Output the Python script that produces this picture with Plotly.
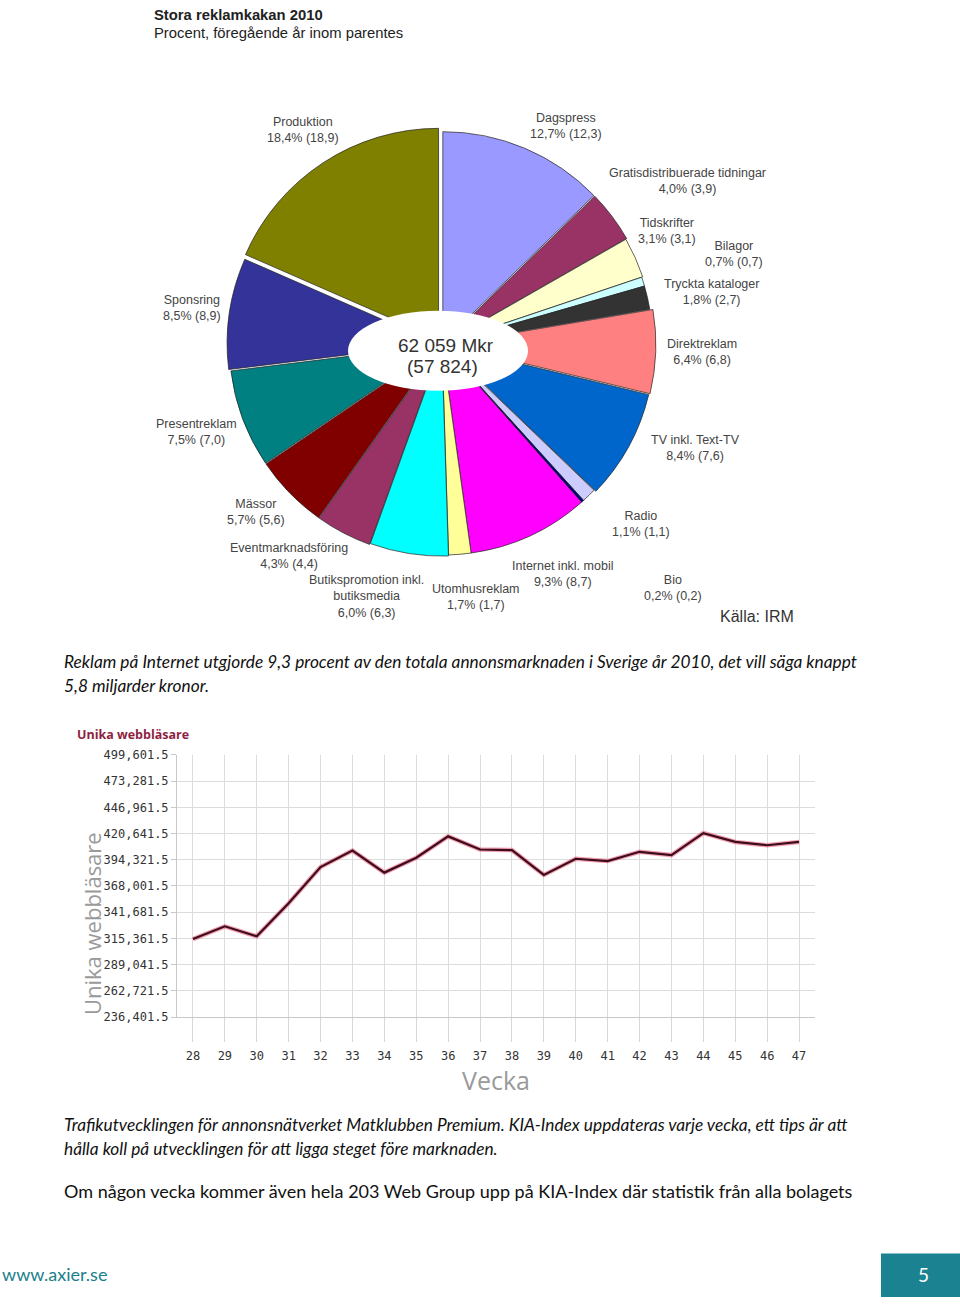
import plotly.graph_objects as go

W, H = 960, 1304

# ---------------- data ----------------
pie_labels = ["Dagspress", "Gratisdistribuerade tidningar", "Tidskrifter", "Bilagor",
              "Tryckta kataloger", "Direktreklam", "TV inkl. Text-TV", "Radio", "Bio",
              "Internet inkl. mobil", "Utomhusreklam", "Butikspromotion inkl. butiksmedia",
              "Eventmarknadsföring", "Mässor", "Presentreklam", "Sponsring", "Produktion"]
pie_values = [12.7, 4.0, 3.1, 0.7, 1.8, 6.4, 8.4, 1.1, 0.2, 9.3, 1.7, 6.0, 4.3, 5.7, 7.5, 8.5, 18.4]
pie_prev = [12.3, 3.9, 3.1, 0.7, 2.7, 6.8, 7.6, 1.1, 0.2, 8.7, 1.7, 6.3, 4.4, 5.6, 7.0, 8.9, 18.9]
pie_colors = ["#9999ff", "#993366", "#ffffcc", "#ccffff", "#333333", "#ff8080", "#0066cc",
              "#ccccff", "#000080", "#ff00ff", "#ffff99", "#00ffff", "#993366", "#800000",
              "#008080", "#333399", "#808000"]
pie_pull = [0.01, 0.01, 0.005, 0.0, 0.0, 0.015, 0.01, 0.0, 0.0, 0.0, 0.0, 0.005, 0.01, 0.01,
            0.01, 0.02, 0.03]
pie_label_text = ["Dagspress", "Gratisdistribuerade tidningar", "Tidskrifter", "Bilagor",
                  "Tryckta kataloger", "Direktreklam", "TV inkl. Text-TV", "Radio", "Bio",
                  "Internet inkl. mobil", "Utomhusreklam", "Butikspromotion inkl.<br>butiksmedia",
                  "Eventmarknadsföring", "Mässor", "Presentreklam", "Sponsring", "Produktion"]
# label anchor positions (pixels)
pie_label_pos = [(566, 120), (687, 176), (667, 226), (734, 250), (711, 288), (702, 349),
                 (695, 446), (641, 523), (673, 587), (562, 573), (476, 596), (366, 596),
                 (289, 555), (256, 510), (196, 430), (192, 304), (303, 124)]
total_now = "62 059 Mkr"
total_prev = "(57 824)"

weeks = [28, 29, 30, 31, 32, 33, 34, 35, 36, 37, 38, 39, 40, 41, 42, 43, 44, 45, 46, 47]
browsers = [314700, 327500, 317500, 350600, 387000, 403500, 381400, 396300, 417800, 404600,
            404000, 379100, 395300, 393000, 402300, 399000, 421100, 412200, 408900, 412200]
y_ticks = [236401.5, 262721.5, 289041.5, 315361.5, 341681.5, 368001.5, 394321.5,
           420641.5, 446961.5, 473281.5, 499601.5]
y_ticktext = ["236,401.5", "262,721.5", "289,041.5", "315,361.5", "341,681.5", "368,001.5",
              "394,321.5", "420,641.5", "446,961.5", "473,281.5", "499,601.5"]

para1 = ["Reklam på Internet utgjorde 9,3 procent av den totala annonsmarknaden i Sverige år 2010, det vill säga knappt",
         "5,8 miljarder kronor."]
para2 = ["Trafikutvecklingen för annonsnätverket Matklubben Premium. KIA-Index uppdateras varje vecka, ett tips är att",
         "hålla koll på utvecklingen för att ligga steget före marknaden."]
para3 = "Om någon vecka kommer även hela 203 Web Group upp på KIA-Index där statistik från alla bolagets"


def px(x):
    return x / W


def py(y):
    return 1 - y / H


def note(x, y, text, font, xanchor="center", yanchor="middle", **kw):
    d = dict(x=px(x), y=py(y), xref="paper", yref="paper", text=text, showarrow=False,
             xanchor=xanchor, yanchor=yanchor, font=font)
    d.update(kw)
    return d


fig = go.Figure()

# ---------------- pie ----------------
cx, cy, r = 442, 341, 213
maxpull = max(pie_pull)
R = r * (1 + maxpull)
fig.add_trace(go.Pie(
    labels=pie_labels, values=pie_values, sort=False, direction="clockwise", rotation=0,
    marker=dict(colors=pie_colors, line=dict(color="#222222", width=0.7)),
    pull=pie_pull, textinfo="none", hoverinfo="label+percent", showlegend=False,
    domain=dict(x=[px(cx - R), px(cx + R)], y=[py(cy + R), py(cy - R)]),
))

arial = "Liberation Sans, Arial"
annotations = []
for lab, v, p, (lx, ly) in zip(pie_label_text, pie_values, pie_prev, pie_label_pos):
    txt = f"{lab}<br>{str(v).replace('.', ',')}% ({str(p).replace('.', ',')})"
    annotations.append(note(lx, ly, txt, dict(family=arial, size=12.5, color="#444444")))

shapes = [dict(type="circle", xref="paper", yref="paper", x0=px(348), x1=px(528),
               y0=py(388), y1=py(307), fillcolor="white", line=dict(width=0), layer="above")]
annotations.append(note(446, 342, total_now, dict(family=arial, size=19, color="#333333")))
annotations.append(note(442, 363, total_prev, dict(family=arial, size=19, color="#333333")))

# titles
annotations.append(note(152, 8, "<b>Stora reklamkakan 2010</b>",
                        dict(family=arial, size=14.8, color="#222222"), xanchor="left"))
annotations.append(note(152, 26, "Procent, föregående år inom parentes",
                        dict(family=arial, size=14.8, color="#222222"), xanchor="left"))
annotations.append(note(757, 616, "Källa: IRM", dict(family=arial, size=16, color="#333333")))

# ---------------- line chart ----------------
fig.add_trace(go.Scatter(x=weeks, y=browsers, mode="lines", xaxis="x", yaxis="y",
                         line=dict(color="rgba(230,80,110,0.55)", width=4.5), hoverinfo="skip",
                         showlegend=False))
fig.add_trace(go.Scatter(x=weeks, y=browsers, mode="lines", xaxis="x", yaxis="y",
                         line=dict(color="#3e0c1c", width=2.2), showlegend=False,
                         name="Unika webbläsare"))

tickfont = dict(family="DejaVu Sans Mono, DejaVu Sans", size=12, color="#333333")
fig.update_layout(
    xaxis=dict(domain=[px(177), px(815)], anchor="y", range=[27.5, 47.5], tickvals=weeks,
               ticks="outside", ticklen=24, tickcolor="#d8d8d8", tickwidth=1,
               ticklabelstandoff=4,
               showgrid=True, gridcolor="#dcdcdc", gridwidth=1, zeroline=False,
               showline=True, linecolor="#c8c8c8", tickfont=tickfont, fixedrange=True),
    yaxis=dict(domain=[py(1021), py(756)], anchor="x", range=[y_ticks[0], y_ticks[-1]],
               tickvals=y_ticks, ticktext=y_ticktext, ticks="outside", ticklen=5,
               tickcolor="#c8c8c8", showgrid=True, gridcolor="#dcdcdc", gridwidth=1,
               zeroline=False, showline=True, linecolor="#c8c8c8", tickfont=tickfont,
               fixedrange=True),
)

annotations.append(note(75, 735, "<b>Unika webbläsare</b>",
                        dict(family="Open Sans", size=12.5, color="#8e1f42"), xanchor="left"))
annotations.append(note(92, 927, "Unika webbläsare",
                        dict(family="Open Sans", size=22, color="#9a9a9a"), textangle=-90))
annotations.append(note(496, 1085, "Vecka", dict(family="Open Sans", size=25, color="#9a9a9a")))

# ---------------- paragraphs ----------------
pfont = dict(family="Lato", size=17.3, color="#111111")
for txt, yy in zip(para1, [662, 686]):
    annotations.append(note(62, yy, f"<i>{txt}</i>", pfont, xanchor="left"))
for txt, yy in zip(para2, [1130, 1154]):
    annotations.append(note(62, yy, f"<i>{txt}</i>", pfont, xanchor="left"))
annotations.append(note(62, 1197, para3, dict(family="Lato", size=18, color="#111111"), xanchor="left"))

# ---------------- footer ----------------
shapes.append(dict(type="rect", xref="paper", yref="paper", x0=px(881), x1=1, y0=0, y1=py(1260),
                   fillcolor="#1a8290", line=dict(width=0), layer="above"))
annotations.append(note(923, 1281, "5", dict(family="Lato", size=19, color="white")))
annotations.append(note(0, 1281, "www.axier.se", dict(family="Lato", size=18, color="#1a7f8c"),
                        xanchor="left"))

fig.update_layout(width=W, height=H, margin=dict(l=0, r=0, t=0, b=0),
                  paper_bgcolor="white", plot_bgcolor="white",
                  annotations=annotations, shapes=shapes)

fig.write_html(
    "out.html",
    config={"displayModeBar": False},
    post_script=("var s=document.createElement('style');"
                 "s.textContent='html,body{margin:0!important;padding:0!important;overflow:hidden;}"
                 ".plotly-graph-div{display:block;margin:0;}';"
                 "document.head.appendChild(s);"),
)
